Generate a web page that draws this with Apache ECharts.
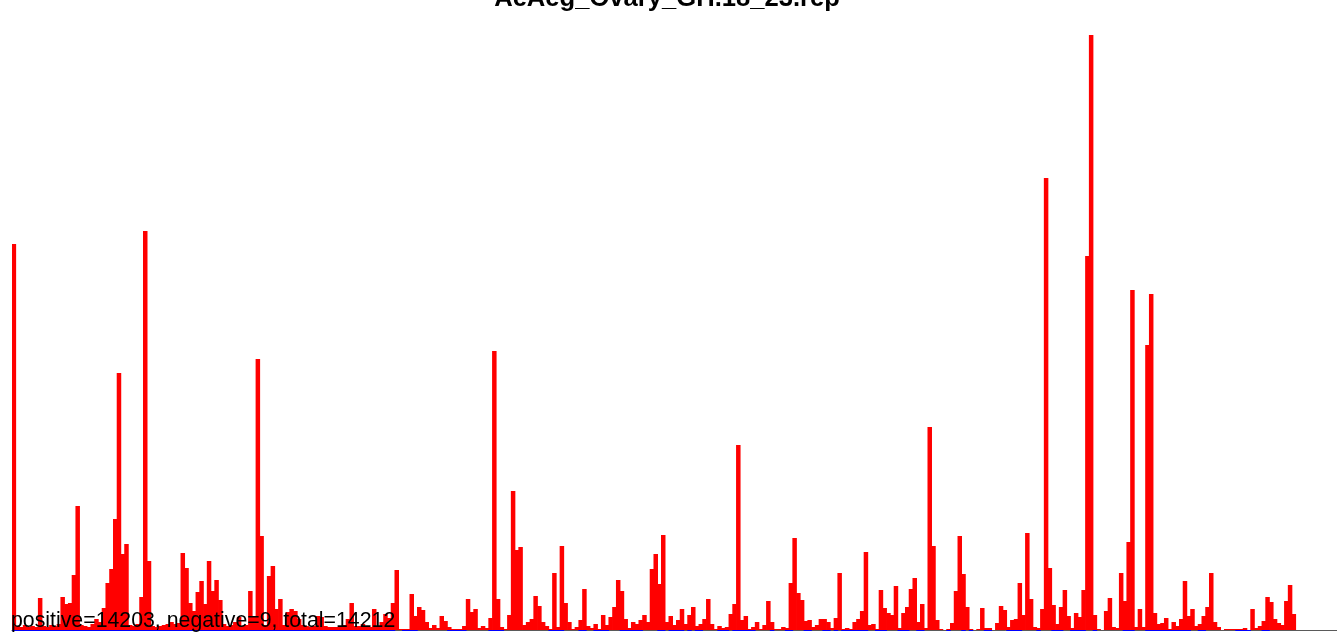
<!DOCTYPE html>
<html>
<head>
<meta charset="utf-8">
<script src="https://cdn.jsdelivr.net/npm/echarts@6/dist/echarts.min.js"></script>
<style>
html,body{margin:0;padding:0;background:#fff;}
#chart{width:1337px;height:634px;}
</style>
</head>
<body>
<div id="chart"></div>
<script>
// ---- data ----
const chartTitle = 'AeAeg_Ovary_GH.18_23.rep';
const positiveTotal = 14203;
const negativeTotal = 9;
const grandTotal = 14212;
const binCount = 353; // bins along the x axis (the last ones are empty)

// positive counts per bin (units scaled to the plotted height)
const positive = [
  386,4,3,5,3,4,3,32,4,3,
  5,4,6,33,26,27,55,124,5,4,
  3,6,11,8,22,47,61,111,257,76,
  86,5,4,6,33,399,69,4,3,4,
  5,6,8,6,7,77,62,27,19,38,
  49,26,69,39,50,30,6,4,5,8,
  13,4,5,39,14,271,94,5,54,64,
  21,31,5,18,21,19,11,5,4,3,
  4,14,13,4,3,3,3,4,5,11,
  27,4,4,6,4,3,21,4,8,16,
  12,27,60,1,1,1,36,14,23,20,
  8,2,5,2,14,9,3,1,1,1,
  4,31,18,21,2,4,2,12,279,31,
  3,1,15,139,80,83,5,8,11,34,
  24,8,4,1,57,3,84,27,8,1,
  3,10,41,4,2,6,1,15,5,13,
  23,50,39,11,2,8,6,10,15,8,
  61,76,46,95,8,14,5,10,21,6,
  15,23,4,6,11,31,6,1,4,2,
  3,16,26,185,10,14,1,3,8,1,
  5,29,8,1,1,3,2,47,92,37,
  30,9,10,3,5,11,11,8,2,12,
  57,1,2,1,8,11,19,78,5,6,
  1,40,22,17,15,44,2,17,23,41,
  52,8,26,2,203,84,10,1,0,1,
  7,39,94,56,23,1,0,1,22,2,
  2,0,7,24,20,3,10,11,47,15,
  97,31,3,2,21,452,62,25,6,23,
  40,14,2,17,13,40,374,595,15,1,
  0,19,32,3,2,57,29,88,340,3,
  21,3,285,336,17,6,7,12,1,8,
  4,11,49,14,21,4,6,14,23,57,
  8,3,0,1,1,1,1,1,2,0,
  21,2,4,9,33,28,11,7,5,29,
  45,16
];

// bins with a (tiny) negative count, as inclusive index ranges
const negativeRanges = [
  [0,101],[104,107],[116,120],[127,130],[143,146],[151,152],[155,158],
  [162,167],[172,173],[175,178],[180,180],[182,183],[188,190],[192,197],
  [202,202],[206,207],[211,212],[216,217],[219,219],[221,227],[230,232],
  [236,238],[241,242],[249,249],[253,253],[255,255],[259,260],[265,268],
  [273,273],[277,279],[282,285],[288,288],[296,298],[302,313],[316,317],
  [326,329],[333,334]
];
const negativeDepth = -1;

// ---- build series ----
const categories = Array.from({length: binCount}, (_, i) => String(i + 1));
const posData = categories.map((_, i) => (i < positive.length ? positive[i] : null));
const negSet = new Set();
negativeRanges.forEach(([a, b]) => { for (let i = a; i <= b; i++) negSet.add(i); });
const negData = categories.map((_, i) => (negSet.has(i) ? negativeDepth : null));

const chart = echarts.init(document.getElementById('chart'), null, {renderer: 'canvas'});
chart.setOption({
  animation: false,
  backgroundColor: '#ffffff',
  grid: {left: 12, right: 0, top: 35, bottom: 0, containLabel: false},
  xAxis: {
    type: 'category',
    data: categories,
    boundaryGap: true,
    axisLine: {show: true, onZero: true, lineStyle: {color: '#5a5a5a', width: 1}},
    axisTick: {show: false},
    axisLabel: {show: false},
    splitLine: {show: false}
  },
  yAxis: {
    type: 'value',
    min: -4,
    max: 595,
    show: false,
    splitLine: {show: false}
  },
  series: [
    {
      name: 'positive',
      type: 'bar',
      data: posData,
      barWidth: 4.5,
      barGap: '-100%',
      itemStyle: {color: '#ff0000'},
      z: 2
    },
    {
      name: 'negative',
      type: 'bar',
      data: negData,
      barWidth: 4.5,
      barGap: '-100%',
      itemStyle: {color: '#0000ff'},
      z: 3
    }
  ],
  graphic: [
    {
      type: 'text',
      z: 100,
      style: {
        text: chartTitle,
        x: 667,
        y: -0.8,
        align: 'center',
        verticalAlign: 'middle',
        font: 'bold 25.6px "Liberation Sans", Arial, sans-serif',
        fill: '#000000'
      }
    },
    {
      type: 'text',
      z: 100,
      style: {
        text: 'positive=' + positiveTotal + ', negative=' + negativeTotal + ', total=' + grandTotal,
        x: 11,
        y: 621.1,
        align: 'left',
        verticalAlign: 'middle',
        font: '21.3px "Liberation Sans", Arial, sans-serif',
        fill: '#000000'
      }
    }
  ]
});
</script>
</body>
</html>
